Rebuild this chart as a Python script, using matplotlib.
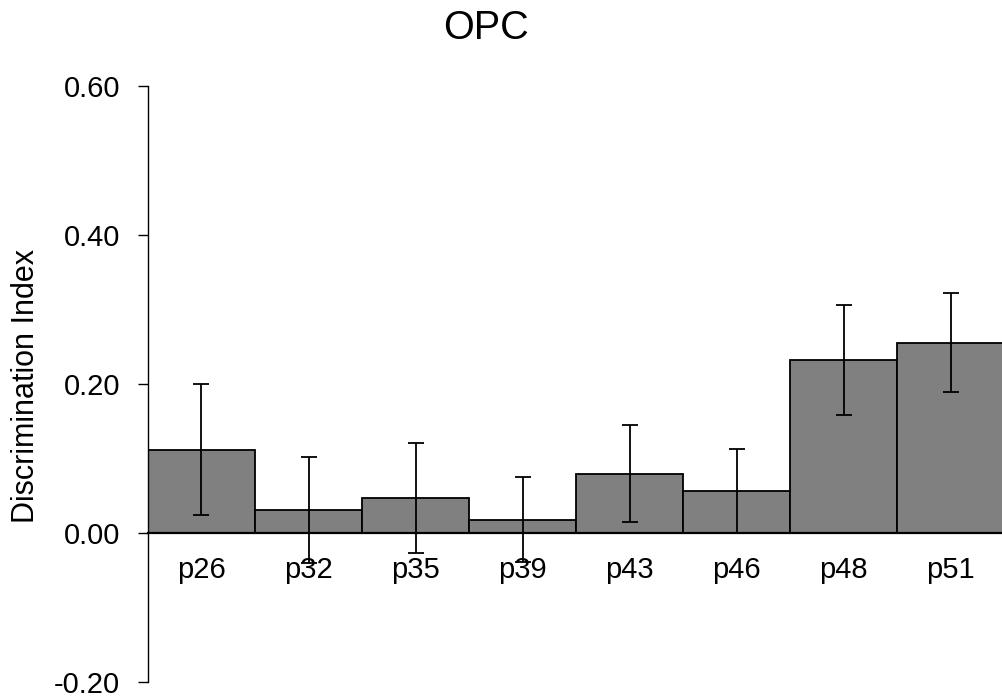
import matplotlib
matplotlib.use("Agg")
import matplotlib.pyplot as plt
import numpy as np

plt.rcParams["font.family"] = ["Liberation Sans", "DejaVu Sans"]

labels = ["p26", "p32", "p35", "p39", "p43", "p46", "p48", "p51"]
means  = [0.112, 0.031, 0.047, 0.018, 0.080, 0.057, 0.233, 0.256]
errs   = [0.088, 0.071, 0.074, 0.057, 0.065, 0.056, 0.074, 0.066]

fig = plt.figure(figsize=(10.03, 6.99), dpi=100)
ax = fig.add_axes([148 / 1003, 1 - 682.3 / 699, 856 / 1003, (682.3 - 86.3) / 699])

# spine moved first, it resets the tick setup
for s in ["top", "right"]:
    ax.spines[s].set_visible(False)
ax.spines["bottom"].set_position(("data", 0))
ax.spines["bottom"].set_linewidth(1.6)
ax.spines["left"].set_linewidth(1.0)

x = np.arange(len(labels))
ax.bar(x, means, width=1.0, color="#808080", edgecolor="black", linewidth=1.3, zorder=2)
ax.errorbar(x, means, yerr=errs, fmt="none", ecolor="black", elinewidth=1.3,
            capsize=5.5, capthick=1.3, zorder=3)

ax.set_xlim(-0.5, len(labels) - 0.5)
ax.set_ylim(-0.2, 0.6)
ax.set_yticks([-0.2, 0.0, 0.2, 0.4, 0.6])
ax.set_yticklabels(["-0.20", "0.00", "0.20", "0.40", "0.60"])
ax.set_xticks(x)
ax.set_xticklabels(labels)
ax.tick_params(axis="x", length=0, pad=16, labelsize=21)
ax.tick_params(axis="y", direction="out", length=7, width=1.0, pad=13, labelsize=21)

fig.text(26 / 1003, 1 - 386 / 699, "Discrimination Index", rotation=90,
         ha="center", va="center", fontsize=22)
fig.text(486 / 1003, 1 - 28 / 699, "OPC", ha="center", va="center", fontsize=28.5)

fig.savefig("out.png", dpi=100)
